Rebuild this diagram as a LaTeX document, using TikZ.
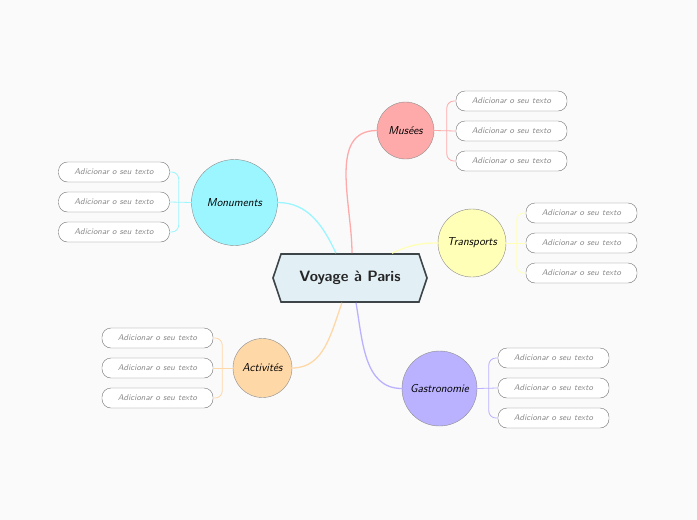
\documentclass[tikz,border=0pt]{standalone}
\usepackage{tikz}
\usetikzlibrary{shapes.symbols,calc,positioning}

\definecolor{bgc}{HTML}{FAFAFA}
\definecolor{tripc}{HTML}{E2EFF5}
\definecolor{tripd}{HTML}{3D4548}
\definecolor{musc}{HTML}{FFAAAA}
\definecolor{monc}{HTML}{9CF6FF}
\definecolor{trac}{HTML}{FFFFB8}
\definecolor{gasc}{HTML}{BAB2FF}
\definecolor{actc}{HTML}{FFD8A8}

\begin{document}
\begin{tikzpicture}[
    x=1pt, y=1pt,
    trip/.style  = {signal, signal to=west and east, signal pointer angle=143,
                    draw=tripd, fill=tripc, line width=1.6pt,
                    minimum width=154, minimum height=48, inner sep=0pt,
                    text=black!85, font=\sffamily\bfseries\fontsize{15}{17}\selectfont},
    topic/.style = {circle, draw=black!45, inner sep=0pt,
                    font=\sffamily\itshape\fontsize{11.5}{13}\selectfont},
    leaf/.style  = {draw=black!55, fill=white, rounded corners=9pt,
                    minimum width=111, minimum height=20, inner sep=0pt,
                    text=black!45, font=\sffamily\itshape\fontsize{8.4}{10}\selectfont},
    branch/.style = {line width=1.3pt},
    twig/.style   = {line width=0.8pt, rounded corners=7pt}
  ]

  \fill[bgc] (0,0) rectangle (697,-520);

  \node[trip] (trip) at (350,-278) {Voyage à Paris};

  \node[topic, fill=musc, minimum size=57] (mus) at (405.5,-130.5) {Musées};
  \node[topic, fill=monc, minimum size=86] (mon) at (234.5,-202.5) {Monuments};
  \node[topic, fill=trac, minimum size=68] (tra) at (472,-243) {Transports};
  \node[topic, fill=gasc, minimum size=75] (gas) at (439.5,-388.5) {Gastronomie};
  \node[topic, fill=actc, minimum size=59] (act) at (262.5,-368) {Activités};

  \foreach \t/\x/\y in {mus/511.5/-131, mon/114/-202, tra/581.5/-243,
                        gas/553.5/-388, act/157.5/-368} {
    \foreach \k/\dy in {1/30,2/0,3/-30}
      \node[leaf] (\t\k) at (\x,\y+\dy) {Adicionar o seu texto};
  }

  \draw[branch, musc] ($(trip.north)+(2,0)$) to[out=90,in=180] (mus.west);
  \draw[branch, monc] ($(trip.north)+(-14,0)$) to[out=115,in=0] (mon.east);
  \draw[branch, trac] ($(trip.north)+(42,0)$) to[out=25,in=180] (tra.west);
  \draw[branch, gasc] ($(trip.south)+(6,0)$) to[out=-80,in=180] (gas.west);
  \draw[branch, actc] ($(trip.south)+(-8,0)$) to[out=-110,in=0] (act.east);

  \foreach \t/\a/\b/\d in {mus/east/west/-9, tra/east/west/-9, gas/east/west/-9,
                           mon/west/east/9, act/west/east/9} {
    \draw[twig, \t c] (\t.\a) -- (\t2.\b);
    \draw[twig, \t c] ($(\t2.\b)+(\d,0)$) |- (\t1.\b);
    \draw[twig, \t c] ($(\t2.\b)+(\d,0)$) |- (\t3.\b);
  }

\end{tikzpicture}
\end{document}
